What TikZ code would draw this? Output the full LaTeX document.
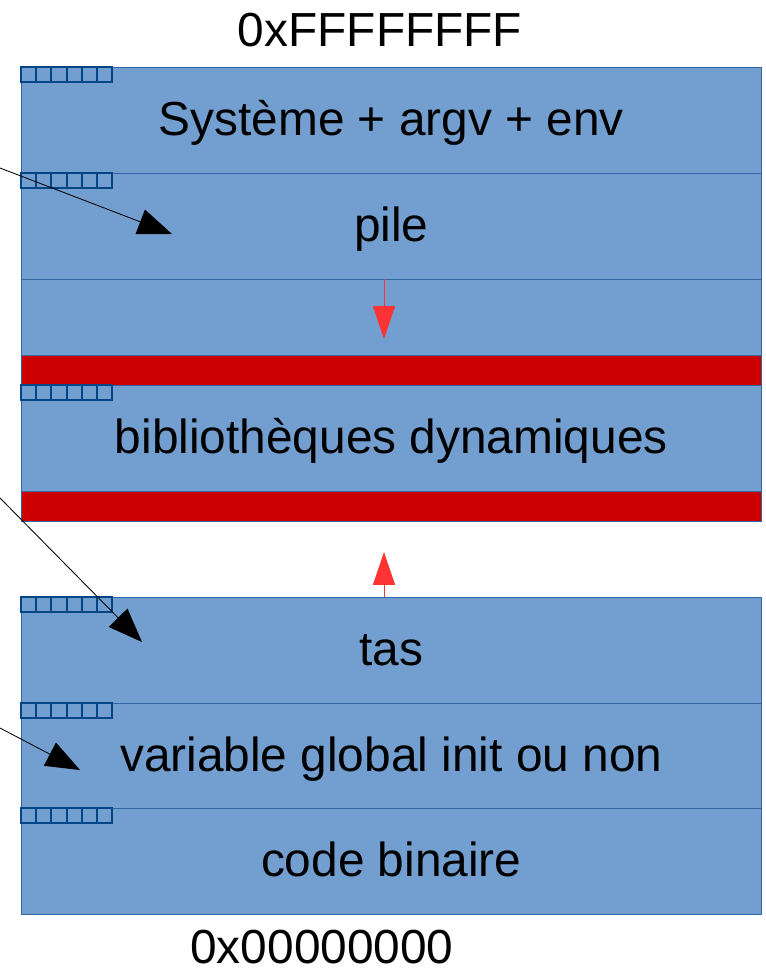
\documentclass[tikz,border=0pt]{standalone}
\usepackage{fontspec}
\setmainfont{Liberation Sans}
\usetikzlibrary{arrows.meta}
\definecolor{bleu}{HTML}{729FCF}
\definecolor{bord}{HTML}{3465A4}
\definecolor{case}{HTML}{004586}
\definecolor{rouge}{HTML}{CC0000}
\definecolor{fleche}{HTML}{FF3333}
\newcommand{\px}{0.025cm}

\begin{document}
\begin{tikzpicture}[x=\px, y=-\px,
    zone/.style={draw=bord, fill=bleu, anchor=north west, minimum width=740*\px, minimum height=#1*\px, inner sep=0pt, text height=21pt, text depth=0pt, font=\fontsize{34}{40}\selectfont},
    zone/.default=106,
    bande/.style={draw=bord, fill=rouge, anchor=north west, minimum width=740*\px, minimum height=30*\px, inner sep=0pt},
    case/.style={draw=case, line width=1.4pt},
    adresse/.style={inner sep=0pt, font=\fontsize{34}{40}\selectfont},
    pointeur/.style={draw=black, line width=0.6pt, -{Triangle[length=0.85cm, width=0.65cm]}},
    croissance/.style={draw=fleche, line width=0.7pt, -{Triangle[length=0.82cm, width=0.55cm]}}]
    \useasboundingbox (0,0) rectangle (765,971);

    % Addresses
    \node[adresse] (haut) at (380,30) {0xFFFFFFFF};
    \node[adresse] (bas) at (322,947) {0x00000000};

    % Upper part
    \node[zone] (systeme) at (21,67) {Système + argv + env};
    \node[zone] (pile) at (21,173) {pile};
    \node[zone=76] (vide) at (21,279) {};
    \node[bande] (bande-haut) at (21,355) {};
    \node[zone] (biblio) at (21,385) {bibliothèques dynamiques};
    \node[bande] (bande-bas) at (21,491) {};

    % Lower part
    \node[zone] (tas) at (21,597) {tas};
    \node[zone] (globales) at (21,703) {variable global init ou non};
    \node[zone] (code) at (21,808) {code binaire};

    % Cells
    \foreach \y in {67,173,385,597,703,808}
        \foreach \i in {0,...,5}
            \draw[case] (21+\i*15.2,\y) rectangle ++(15.2,15);

    % Growth
    \coordinate (pile-fin) at (384,339);
    \coordinate (tas-fin) at (384,552);
    \draw[croissance] (vide.north -| pile-fin) -- (pile-fin);
    \draw[croissance] (tas.north -| tas-fin) -- (tas-fin);

    % Pointers
    \coordinate (src-pile) at (0,168);
    \coordinate (pt-pile) at (172,234);
    \coordinate (src-tas) at (0,498);
    \coordinate (pt-tas) at (142,642);
    \coordinate (src-globales) at (0,728);
    \coordinate (pt-globales) at (80,770);
    \draw[pointeur] (src-pile) -- (pt-pile);
    \draw[pointeur] (src-tas) -- (pt-tas);
    \draw[pointeur] (src-globales) -- (pt-globales);

\end{tikzpicture}
\end{document}
